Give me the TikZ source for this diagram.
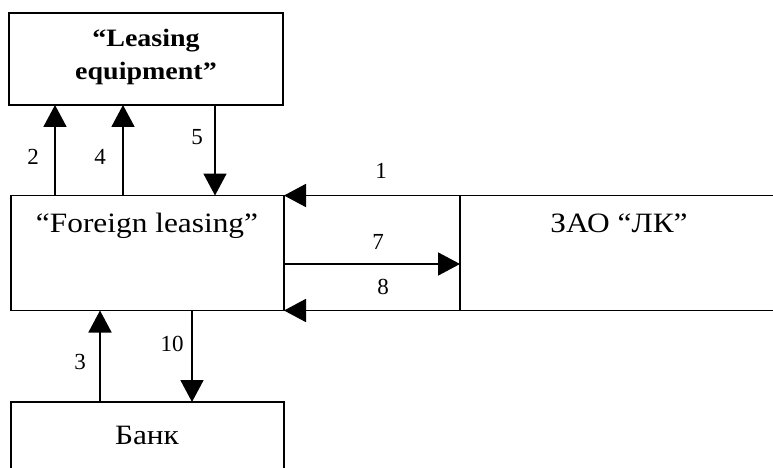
\documentclass[tikz,border=0pt]{standalone}
\usepackage{fontspec}
\setmainfont{Liberation Serif}[FakeStretch=1.12]
\newfontfamily\numfont{Liberation Serif}
\usetikzlibrary{arrows.meta}
\begin{document}
\begin{tikzpicture}[x=1pt,y=-1pt,
  every node/.style={outer sep=0pt},
  box/.style={draw, line width=1.8pt, rectangle, inner sep=0pt, anchor=north west},
  ghost/.style={rectangle, inner sep=0pt, anchor=north west},
  edge/.style={line width=1.8pt},
  arr/.style={line width=1.8pt, -{Triangle[length=22pt,width=23pt]}},
  main/.style={font=\fontsize{28}{33}\selectfont, inner sep=0pt, anchor=base},
  num/.style={font=\numfont\fontsize{23}{26}\selectfont, inner sep=0pt},
  bold/.style={font=\fontsize{25}{33}\selectfont\bfseries, inner sep=0pt, align=center}]
\useasboundingbox (0,0) rectangle (773,468);
\fill[white] (0,0) rectangle (773,468);
% boxes
\node[box, minimum width=274pt, minimum height=92pt] (LE) at (9,13) {};
\node[box, minimum width=273pt, minimum height=115pt] (FL) at (11,195.5) {};
\node[ghost, minimum width=313pt, minimum height=115pt] (ZAO) at (460,195.5) {};
\node[ghost, minimum width=273pt, minimum height=66pt] (BK) at (11,402) {};
\draw[edge] (ZAO.north west) -- (ZAO.south west);
\draw[edge] (BK.south west) -- (BK.north west) -- (BK.north east) -- (BK.south east);
% texts
\node[bold] (LEt) at (146,57) {``Leasing\\equipment''};
\node[main] (FLt) at (147,232) {``Foreign leasing''};
\node[main] (ZAOt) at (619,232) {ЗАО ``ЛК''};
\node[main] (BKt) at (147,444) {Банк};
% helper coordinates
\coordinate (x2) at (55,0);
\coordinate (x4) at (123,0);
\coordinate (x5) at (215,0);
\coordinate (x3) at (100,0);
\coordinate (x10) at (192,0);
\coordinate (y7) at (0,264);
% connectors
\draw[arr] (FL.north -| x2) -- (LE.south -| x2);
\draw[arr] (FL.north -| x4) -- (LE.south -| x4);
\draw[arr] (LE.south -| x5) -- (FL.north -| x5);
\draw[arr] (ZAO.north east) -- (FL.north east);
\draw[arr] (FL.east |- y7) -- (ZAO.west |- y7);
\draw[arr] (ZAO.south east) -- (FL.south east);
\draw[arr] (BK.north -| x3) -- (FL.south -| x3);
\draw[arr] (FL.south -| x10) -- (BK.north -| x10);
% labels
\node[num] (l1) at (381,171) {1};
\node[num] (l2) at (33,157) {2};
\node[num] (l4) at (100,157) {4};
\node[num] (l5) at (197,137) {5};
\node[num] (l7) at (378,242) {7};
\node[num] (l8) at (383,287) {8};
\node[num] (l3) at (80,362) {3};
\node[num] (l10) at (172,344) {10};
\end{tikzpicture}
\end{document}
